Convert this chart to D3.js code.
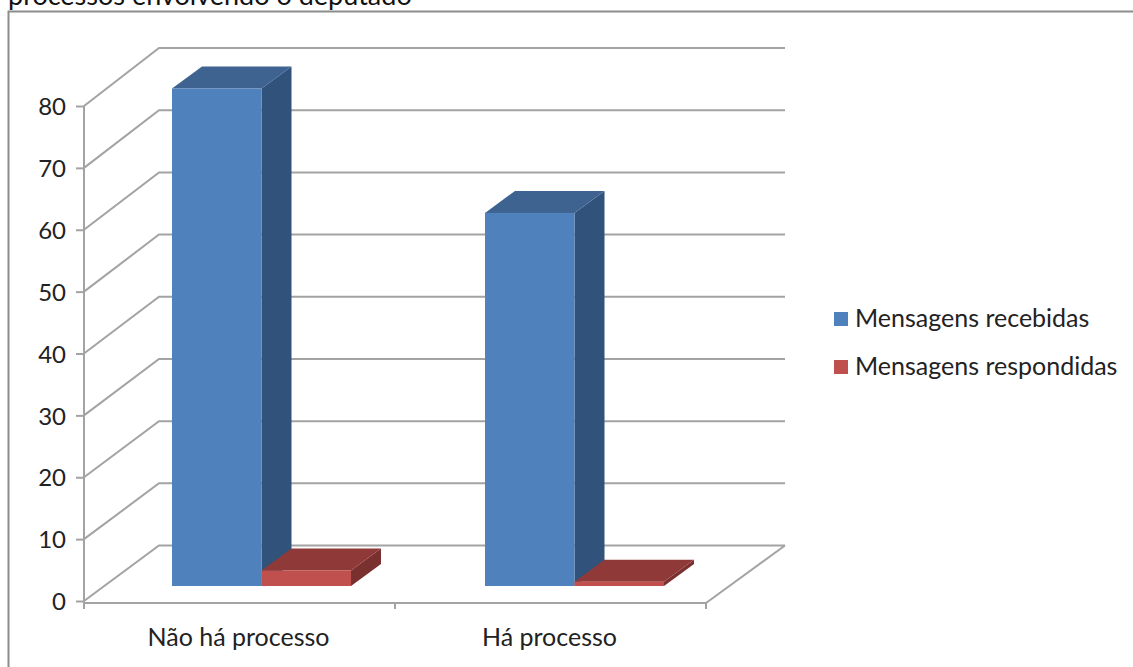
<!DOCTYPE html>
<html lang="pt">
<head>
<meta charset="utf-8">
<style>
  html, body { margin: 0; padding: 0; background: #fff; }
  svg { display: block; }
  text { font-family: Lato, "Open Sans", sans-serif; fill: #222; }
</style>
<script src="https://cdn.jsdelivr.net/npm/d3@7/dist/d3.min.js"></script>
</head>
<body>
<svg id="chart" width="1133" height="667"></svg>
<script>
const categories = ["Não há processo", "Há processo"];
const seriesNames = ["Mensagens recebidas", "Mensagens respondidas"];
const received = [80, 60];
const answered = [2.5, 0.7];
const yTicks = [0, 10, 20, 30, 40, 50, 60, 70, 80];
const heading = "processos envolvendo o deputado";

const palette = [
  { front: "#4f81bd", top: "#3e6391", side: "#31527b" },
  { front: "#c0504d", top: "#8f3a38", side: "#7a302f" }
];
const gridColor = "#a3a3a3";
const labelSize = 25;

const svg = d3.select("#chart");

// Front plane of the 3D box, and the back wall, which is drawn slightly taller.
const x = d3.scaleBand().domain(categories).range([84, 706]);
const y = d3.scaleLinear().domain([0, 80]).range([601, 106]);
const yBack = d3.scaleLinear().domain([0, 80]).range([545.5, 48]);
const backLeft = 159;
const backRight = 785;

// Column positions on screen, standing on the floor inside the box.
const groupX = d3.scaleBand().domain(categories).range([172, 798]);
const inner = d3.scaleBand().domain([0, 1]).range([0, 179]);
const columnBase = 586;
const columnDepth = { dx: 30, dy: -22 };

// Outer chart border, cut by the window on the right and bottom.
svg.append("path")
  .attr("d", "M8.5,668V11.5H1134")
  .attr("fill", "none")
  .attr("stroke", "#8c8c8c")
  .attr("stroke-width", 2);

svg.append("text")
  .attr("x", 8)
  .attr("y", 4.5)
  .attr("font-size", 27)
  .style("fill", "#111")
  .text(heading);

// Back wall gridlines plus the diagonals running along the left side wall.
const grid = svg.append("g")
  .attr("fill", "none")
  .attr("stroke", gridColor)
  .attr("stroke-width", 2);

grid.selectAll("path")
  .data(yTicks)
  .join("path")
  .attr("d", d => d3.line()([
    [x.range()[0], y(d)],
    [backLeft, yBack(d)],
    [backRight, yBack(d)]
  ]));

// Right edge of the floor.
grid.append("path")
  .attr("d", d3.line()([
    [x.range()[1], y(0) + 2],
    [backRight, yBack(0)]
  ]));

// Value axis.
const yAxis = svg.append("g")
  .attr("transform", `translate(${x.range()[0]},0)`)
  .call(d3.axisLeft(y).tickValues(yTicks).tickSize(8).tickPadding(10).tickFormat(d3.format("d")));
yAxis.selectAll("path,line").attr("stroke", gridColor).attr("stroke-width", 2);
yAxis.select(".domain").attr("d", `M0,${y(80)}V${y(0) + 2}`);
yAxis.selectAll("text").attr("font-size", 24).attr("dy", "0.36em")
  .style("font-family", "Lato, sans-serif").style("fill", "#222");

// Category axis, with ticks between the groups.
const xAxis = svg.append("g")
  .attr("transform", `translate(0,${y(0) + 2})`)
  .call(d3.axisBottom(x).tickSize(0).tickPadding(25));
xAxis.select(".domain").attr("stroke", gridColor).attr("stroke-width", 2)
  .attr("d", `M${x.range()[0]},0H${x.range()[1]}`);
xAxis.selectAll("text").attr("font-size", labelSize)
  .style("font-family", "Lato, sans-serif").style("fill", "#222")
  .attr("dx", -1);
xAxis.selectAll(".edge")
  .data([...categories.map(c => x(c)), x.range()[1]])
  .join("line")
  .attr("class", "edge")
  .attr("x1", d => d).attr("x2", d => d)
  .attr("y1", 0).attr("y2", 6)
  .attr("stroke", gridColor).attr("stroke-width", 2);

// One 3D column per value: side and top faces first, then the front face.
const rows = [];
[received, answered].forEach((vals, s) => {
  vals.forEach((v, c) => rows.push({ v, s, c }));
});

const bars = svg.append("g").selectAll("g")
  .data(rows)
  .join("g");

const pts = a => a.map(p => p.join(",")).join(" ");
const geom = d => {
  const left = groupX(categories[d.c]) + inner(d.s);
  const right = left + inner.bandwidth();
  const top = columnBase - (yBack(0) - yBack(d.v));
  return { left, right, base: columnBase, top };
};

bars.append("polygon")
  .attr("fill", d => palette[d.s].side)
  .attr("points", d => {
    const g = geom(d);
    return pts([[g.right, g.base], [g.right, g.top], [g.right + columnDepth.dx, g.top + columnDepth.dy], [g.right + columnDepth.dx, g.base + columnDepth.dy]]);
  });
bars.append("polygon")
  .attr("fill", d => palette[d.s].top)
  .attr("points", d => {
    const g = geom(d);
    return pts([[g.left, g.top], [g.left + columnDepth.dx, g.top + columnDepth.dy], [g.right + columnDepth.dx, g.top + columnDepth.dy], [g.right, g.top]]);
  });
bars.append("rect")
  .attr("fill", d => palette[d.s].front)
  .attr("x", d => geom(d).left)
  .attr("y", d => geom(d).top)
  .attr("width", inner.bandwidth())
  .attr("height", d => geom(d).base - geom(d).top);

// Legend.
const legend = svg.append("g").selectAll("g")
  .data(seriesNames)
  .join("g")
  .attr("transform", (d, i) => `translate(834,${318.5 + i * 48})`);
legend.append("rect")
  .attr("x", 0).attr("y", -6.5)
  .attr("width", 14).attr("height", 14)
  .attr("fill", (d, i) => palette[i].front);
legend.append("text")
  .attr("x", 21)
  .attr("y", 8)
  .attr("font-size", labelSize)
  .text(d => d);
</script>
</body>
</html>
